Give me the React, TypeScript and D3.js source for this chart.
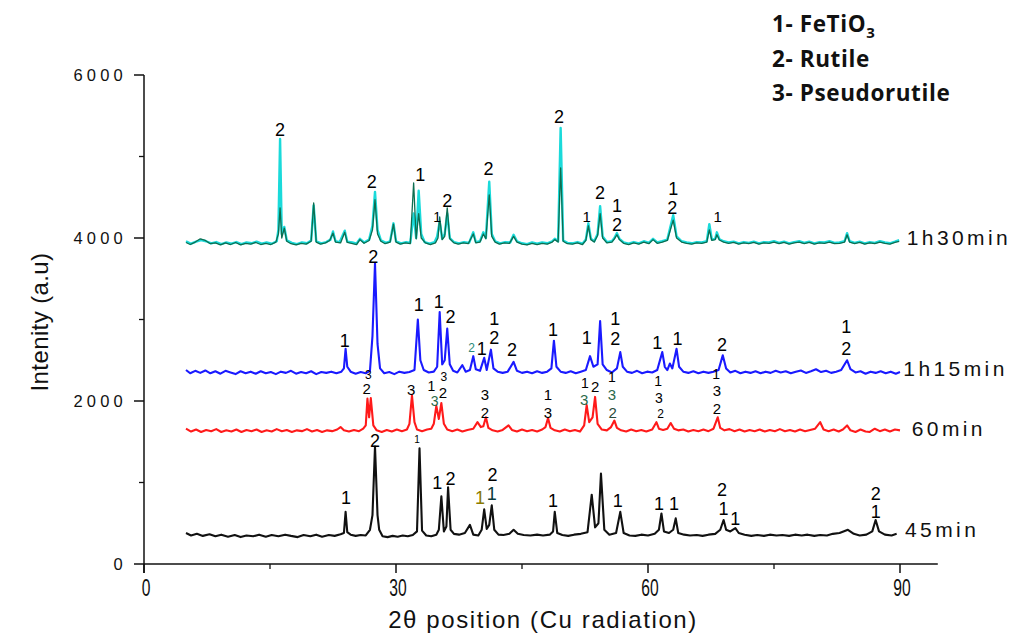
import React from "react";
import * as d3 from "d3";

const xTicksMajor = [0, 30, 60, 90];
const xTicksMinor = [15, 45, 75];
const yTicksMajor = [0, 2000, 4000, 6000];
const yTicksMinor = [1000, 3000, 5000];

const legendItems = ["1- FeTiO", "2- Rutile", "3- Pseudorutile"];

const black45: [number, number][] = [
[5,380],[5.6,350],[6.3,370],[7,345],[7.8,365],[8.5,340],[9.2,360],[10,335],[10.8,355],[11.5,330],[12.2,350],[13,340],[13.7,360],[14.5,335],[15.2,355],[16,340],[16.8,360],[17.5,345],[18.3,330],[19,355],[19.8,340],[20.5,360],[21.2,335],[22,355],[22.7,345],[23.4,365],[23.8,380],[24.0,640],[24.2,390],[24.6,360],[25.2,345],[25.8,355],[26.4,350],[26.9,420],[27.2,600],[27.5,1440],[27.8,600],[28.0,420],[28.4,340],[29,330],[29.6,345],[30.2,335],[30.8,350],[31.4,340],[32,355],[32.5,400],[32.8,1420],[33.1,410],[33.6,350],[34.2,340],[34.8,360],[35.1,420],[35.4,830],[35.7,400],[36.0,460],[36.2,940],[36.5,420],[36.9,370],[37.5,360],[38.2,380],[38.8,480],[39.2,360],[39.8,350],[40.2,420],[40.5,670],[40.8,430],[41.1,480],[41.4,720],[41.7,420],[42.2,360],[42.8,355],[43.5,370],[44,420],[44.5,370],[45.2,355],[46,350],[46.8,360],[47.5,350],[48.3,360],[48.7,400],[48.9,640],[49.2,380],[49.8,355],[50.5,345],[51.2,360],[52,370],[52.8,390],[53.3,850],[53.7,450],[54.1,500],[54.4,1110],[54.8,420],[55.4,360],[56.2,380],[56.7,640],[57.1,380],[57.8,350],[58.5,345],[59.2,360],[60,350],[60.8,370],[61.3,420],[61.6,620],[61.9,400],[62.5,380],[63,420],[63.3,560],[63.6,380],[64.3,360],[65,350],[65.8,355],[66.5,345],[67.2,360],[68,370],[68.6,420],[69.0,540],[69.3,420],[69.8,400],[70.4,440],[70.8,380],[71.5,360],[72.3,345],[73,355],[73.8,345],[74.5,360],[75.3,350],[76,355],[76.8,345],[77.5,360],[78.3,350],[79,360],[79.8,345],[80.5,355],[81.3,350],[82,370],[82.8,380],[83.8,420],[84.5,370],[85.2,350],[86,360],[86.7,400],[87.1,540],[87.5,400],[88.2,360],[89,350],[89.6,370]
];

const red60: [number, number][] = [
[5,1660],[5.6,1625],[6.2,1650],[6.8,1620],[7.4,1645],[8,1630],[8.6,1655],[9.2,1620],[9.8,1640],[10.4,1625],[11,1650],[11.6,1620],[12.2,1645],[12.8,1630],[13.4,1650],[14,1620],[14.6,1640],[15.2,1625],[15.8,1655],[16.4,1630],[17,1645],[17.6,1620],[18.2,1640],[18.8,1630],[19.4,1655],[20,1625],[20.6,1645],[21.2,1620],[21.8,1640],[22.4,1630],[23,1650],[23.4,1680],[23.8,1640],[24.4,1625],[25,1645],[25.6,1630],[26.1,1660],[26.4,1700],[26.6,2030],[26.8,1800],[27.0,2035],[27.3,1700],[27.7,1640],[28.3,1620],[28.9,1645],[29.5,1625],[30.1,1650],[30.7,1630],[31.3,1650],[31.6,1720],[31.9,2070],[32.2,1740],[32.5,1650],[33.1,1630],[33.7,1650],[34.2,1660],[34.5,1720],[34.8,1940],[35.1,1780],[35.4,1975],[35.7,1720],[36.1,1650],[36.7,1630],[37.3,1650],[37.9,1625],[38.5,1645],[39.2,1660],[39.7,1740],[40.1,1680],[40.4,1690],[40.7,1800],[41.0,1670],[41.5,1640],[42.1,1625],[42.7,1645],[43.4,1700],[43.8,1645],[44.4,1625],[45,1650],[45.6,1630],[46.2,1645],[46.8,1625],[47.4,1650],[47.8,1680],[48.1,1790],[48.4,1670],[48.9,1640],[49.5,1625],[50.1,1650],[50.7,1630],[51.3,1645],[51.9,1625],[52.4,1700],[52.7,1950],[53.0,1740],[53.4,1800],[53.7,2050],[54.0,1720],[54.5,1650],[55.1,1640],[55.6,1680],[56.0,1760],[56.3,1670],[56.8,1640],[57.4,1625],[58,1650],[58.6,1630],[59.2,1645],[59.8,1625],[60.5,1650],[61.0,1740],[61.3,1660],[61.8,1645],[62.3,1660],[62.7,1730],[63.1,1660],[63.6,1640],[64.2,1650],[64.8,1625],[65.4,1645],[66,1630],[66.6,1650],[67.2,1630],[67.8,1660],[68.3,1800],[68.6,1670],[69.1,1640],[69.7,1655],[70.3,1630],[70.9,1650],[71.5,1625],[72.1,1645],[72.7,1630],[73.3,1650],[73.9,1625],[74.5,1645],[75.1,1630],[75.7,1655],[76.3,1630],[76.9,1645],[77.5,1625],[78.1,1650],[78.7,1630],[79.3,1645],[79.9,1660],[80.5,1740],[80.9,1650],[81.5,1630],[82.1,1650],[82.7,1625],[83.2,1650],[83.7,1700],[84.1,1640],[84.7,1620],[85.3,1650],[85.9,1625],[86.4,1620],[87,1660],[87.6,1630],[88.2,1650],[88.8,1625],[89.4,1650],[90,1640]
];

const blue75: [number, number][] = [
[5,2380],[5.5,2340],[6.1,2370],[6.7,2345],[7.3,2375],[7.9,2340],[8.5,2365],[9.1,2335],[9.7,2370],[10.3,2350],[10.9,2330],[11.5,2365],[12.1,2340],[12.7,2360],[13.3,2335],[13.9,2365],[14.5,2340],[15.1,2355],[15.7,2330],[16.3,2360],[16.9,2345],[17.5,2370],[18.1,2335],[18.7,2355],[19.3,2340],[19.9,2365],[20.5,2330],[21.1,2355],[21.7,2345],[22.3,2360],[22.9,2340],[23.5,2360],[23.8,2400],[24.0,2640],[24.2,2420],[24.6,2360],[25.2,2335],[25.8,2355],[26.4,2340],[26.9,2370],[27.2,2800],[27.5,3690],[27.8,2700],[28.1,2400],[28.6,2340],[29.2,2355],[29.8,2330],[30.4,2360],[31,2345],[31.6,2355],[32.2,2380],[32.6,3000],[32.9,2500],[33.3,2380],[33.9,2350],[34.5,2360],[34.9,2420],[35.2,3090],[35.5,2450],[35.8,2500],[36.1,2890],[36.4,2450],[36.8,2370],[37.3,2350],[37.9,2440],[38.3,2360],[38.8,2380],[39.2,2550],[39.5,2390],[40.0,2370],[40.5,2530],[40.8,2380],[41.3,2630],[41.6,2400],[42.1,2360],[42.7,2345],[43.3,2360],[44.0,2480],[44.4,2370],[45,2345],[45.6,2360],[46.2,2340],[46.8,2365],[47.4,2345],[48.0,2360],[48.5,2400],[48.8,2740],[49.1,2420],[49.6,2360],[50.2,2345],[50.8,2365],[51.4,2340],[52,2360],[52.6,2380],[53.1,2550],[53.5,2420],[54.0,2450],[54.3,2980],[54.6,2450],[55.1,2380],[55.7,2350],[56.3,2400],[56.7,2600],[57.0,2420],[57.5,2360],[58.1,2345],[58.7,2370],[59.3,2340],[59.9,2360],[60.5,2350],[61.1,2380],[61.7,2600],[62.0,2420],[62.3,2380],[62.6,2460],[62.9,2400],[63.4,2640],[63.7,2420],[64.2,2360],[64.8,2345],[65.4,2365],[66,2340],[66.6,2360],[67.2,2345],[67.8,2360],[68.4,2380],[68.9,2560],[69.3,2400],[69.8,2350],[70.4,2370],[71,2340],[71.6,2360],[72.2,2345],[72.8,2365],[73.4,2340],[74,2360],[74.6,2345],[75.2,2370],[75.8,2350],[76.4,2365],[77,2340],[77.6,2360],[78.2,2375],[78.8,2345],[79.4,2365],[80,2390],[80.6,2355],[81.2,2370],[81.8,2345],[82.4,2360],[83,2380],[83.7,2500],[84.1,2390],[84.7,2350],[85.3,2365],[85.9,2335],[86.5,2360],[87.1,2345],[87.7,2365],[88.3,2340],[88.9,2360],[89.5,2335],[90,2355]
];

const cyan90: [number, number][] = [
[5,3960],[5.6,3930],[6.2,3955],[6.8,3975],[7.4,3960],[8,3935],[8.6,3950],[9.2,3925],[9.8,3945],[10.4,3930],[11,3950],[11.6,3925],[12.2,3945],[12.8,3935],[13.4,3955],[14,3930],[14.6,3945],[15.2,3930],[15.8,3960],[16.0,4100],[16.2,5215],[16.4,4050],[16.7,4135],[17.0,3970],[17.6,3940],[18.2,3925],[18.8,3945],[19.4,3935],[19.9,3970],[20.2,4400],[20.5,3960],[21.1,3935],[21.7,3950],[22.2,3980],[22.5,4080],[22.8,3960],[23.3,3950],[23.9,4090],[24.2,3955],[24.8,3945],[25.3,3930],[25.7,3990],[26.2,3945],[26.8,3980],[27.2,4150],[27.5,4565],[27.8,4100],[28.2,3970],[28.8,3940],[29.3,3960],[29.7,4180],[30.0,3960],[30.6,3935],[31.2,3950],[31.7,3940],[32.1,4300],[32.4,4000],[32.7,4580],[33.0,4050],[33.4,3950],[34,3930],[34.6,3950],[34.9,4020],[35.2,4200],[35.5,3990],[35.8,4050],[36.1,4300],[36.4,4000],[36.9,3950],[37.5,3935],[38.1,3950],[38.7,3940],[39.2,4070],[39.5,3950],[40.0,3960],[40.4,4070],[40.7,4000],[41.1,4690],[41.4,4050],[41.8,3960],[42.4,3935],[43,3950],[43.6,3945],[44.0,4040],[44.4,3960],[45,3935],[45.6,3925],[46.2,3945],[46.8,3930],[47.4,3945],[48,3935],[48.6,3960],[48.9,3990],[49.3,3960],[49.6,5350],[49.9,3970],[50.4,3940],[51,3935],[51.6,3950],[52.2,3930],[52.6,3980],[52.9,4180],[53.2,3990],[53.6,3960],[54.0,4050],[54.3,4390],[54.6,4020],[55.1,3950],[55.7,3960],[56.0,4000],[56.3,4060],[56.6,3990],[57.1,3945],[57.7,3930],[58.3,3950],[58.9,3935],[59.5,3960],[60.1,3940],[60.6,3990],[61.1,3945],[61.7,3960],[62.3,3980],[63.0,4280],[63.4,4020],[64,3960],[64.6,3945],[65.2,3935],[65.8,3950],[66.4,3945],[67.0,3960],[67.3,4170],[67.6,3980],[68.0,3990],[68.2,4070],[68.5,3985],[69,3960],[69.6,3945],[70.2,3955],[70.8,3935],[71.4,3950],[72,3940],[72.6,3955],[73.2,3935],[73.8,3950],[74.4,3945],[75,3960],[75.6,3940],[76.2,3955],[76.8,3935],[77.4,3950],[78,3960],[78.6,3940],[79.2,3955],[79.8,3935],[80.4,3950],[81,3945],[81.6,3960],[82.2,3940],[82.8,3945],[83.4,3960],[83.7,4060],[84,3960],[84.6,3940],[85.2,3955],[85.8,3935],[86.4,3950],[87,3940],[87.6,3960],[88.2,3945],[88.8,3935],[89.4,3955],[89.9,3975]
];

const green90: [number, number][] = [
[5,3945],[5.5,3920],[6.1,3950],[6.7,3990],[7.3,3970],[7.9,3930],[8.5,3940],[9.1,3915],[9.7,3940],[10.3,3920],[10.9,3945],[11.5,3915],[12.1,3935],[12.7,3925],[13.3,3945],[13.9,3920],[14.5,3935],[15.1,3920],[15.7,3950],[16.0,4050],[16.2,4370],[16.4,4000],[16.7,4120],[17.0,3960],[17.5,3930],[18.1,3915],[18.7,3935],[19.3,3925],[19.9,3960],[20.2,4430],[20.5,3950],[21,3925],[21.6,3940],[22.1,3970],[22.5,4060],[22.8,3950],[23.4,3940],[23.9,4070],[24.2,3945],[24.7,3935],[25.3,3920],[25.7,3980],[26.2,3935],[26.8,3970],[27.2,4100],[27.5,4470],[27.8,4050],[28.2,3960],[28.7,3930],[29.3,3950],[29.7,4170],[30.0,3950],[30.5,3925],[31.1,3940],[31.7,3930],[32.1,4675],[32.4,3990],[32.7,4300],[33.0,4000],[33.5,3940],[34.1,3920],[34.7,3940],[35.0,4000],[35.2,4260],[35.5,3980],[35.8,4020],[36.1,4370],[36.4,3990],[36.9,3940],[37.4,3925],[38,3940],[38.6,3930],[39.2,4050],[39.5,3940],[40.0,3950],[40.4,4050],[40.7,3990],[41.1,4530],[41.4,4020],[41.8,3950],[42.3,3925],[42.9,3940],[43.5,3935],[44.0,4020],[44.4,3950],[45,3925],[45.6,3915],[46.2,3935],[46.8,3920],[47.4,3935],[48,3925],[48.6,3950],[48.9,3980],[49.3,3950],[49.6,4860],[49.9,3960],[50.4,3930],[51,3925],[51.6,3940],[52.2,3920],[52.6,3970],[52.9,4150],[53.2,3980],[53.6,3950],[54.0,4030],[54.3,4300],[54.6,4000],[55.1,3940],[55.7,3950],[56.0,3990],[56.3,4040],[56.6,3980],[57.1,3935],[57.7,3920],[58.3,3940],[58.9,3925],[59.5,3950],[60.1,3930],[60.6,3980],[61.1,3935],[61.7,3950],[62.3,3970],[63.0,4220],[63.4,4000],[64,3950],[64.6,3935],[65.2,3925],[65.8,3940],[66.4,3935],[67.0,3950],[67.3,4100],[67.6,3970],[68.0,3980],[68.2,4040],[68.5,3975],[69,3950],[69.6,3935],[70.2,3945],[70.8,3925],[71.4,3940],[72,3930],[72.6,3945],[73.2,3925],[73.8,3940],[74.4,3935],[75,3950],[75.6,3930],[76.2,3945],[76.8,3925],[77.4,3940],[78,3950],[78.6,3930],[79.2,3945],[79.8,3925],[80.4,3940],[81,3935],[81.6,3950],[82.2,3930],[82.8,3935],[83.4,3950],[83.7,4040],[84,3950],[84.6,3930],[85.2,3945],[85.8,3925],[86.4,3940],[87,3930],[87.6,3950],[88.2,3935],[88.8,3925],[89.4,3945],[89.9,3960]
];

// peak labels: [2theta, intensity, text, fontSize, color]
type Lab = [number, number, string, number, string];
const labels45: Lab[] = [
[24.05,810,"1",18,"#000"],[27.5,1521,"2",18,"#000"],[32.5,1534,"1",10,"#000"],[34.9,994,"1",18,"#000"],[36.5,1043,"2",18,"#000"],
[40.0,810,"1",18,"#8a7a00"],[41.4,860,"1",18,"#0a3a3a"],[41.5,1095,"2",18,"#000"],[48.7,773,"1",18,"#000"],[56.4,785,"1",18,"#000"],
[61.3,748,"1",18,"#000"],[63.1,748,"1",18,"#000"],[68.8,920,"2",18,"#000"],[69.0,675,"1",18,"#000"],[70.4,560,"1",18,"#000"],
[87.1,860,"2",18,"#000"],[87.1,638,"1",18,"#000"]
];
const labels60: Lab[] = [
[26.7,2320,"3",12,"#000"],[26.5,2150,"2",15,"#000"],[31.8,2135,"3",15,"#000"],[34.2,2190,"1",14,"#000"],[34.6,2000,"3",14,"#2a6a4a"],
[35.6,2098,"2",15,"#000"],[35.7,2300,"3",12,"#000"],[40.6,2080,"3",15,"#000"],[40.6,1860,"2",15,"#000"],[48.1,2080,"1",15,"#000"],
[48.1,1860,"3",15,"#000"],[52.5,2221,"1",14,"#000"],[52.4,2012,"3",15,"#2a6a4a"],[53.7,2172,"2",15,"#000"],[55.7,2290,"1",14,"#000"],
[55.7,2074,"3",15,"#2a6a4a"],[55.8,1860,"2",15,"#2a4a3a"],[61.2,2250,"1",14,"#000"],[61.3,2040,"3",14,"#000"],[61.5,1845,"2",12,"#000"],
[68.1,2330,"1",14,"#000"],[68.2,2130,"3",15,"#000"],[68.2,1910,"2",15,"#000"]
];
const labels75: Lab[] = [
[23.9,2748,"1",18,"#000"],[27.3,3767,"2",18,"#000"],[32.7,3178,"1",18,"#000"],[35.1,3215,"1",18,"#000"],[36.5,3031,"2",18,"#000"],
[39.0,2650,"2",12,"#2a8a7a"],[40.2,2650,"1",18,"#000"],[41.7,3006,"1",18,"#000"],[41.7,2773,"2",18,"#000"],[43.8,2626,"2",18,"#000"],
[48.7,2871,"1",18,"#000"],[52.7,2785,"1",18,"#000"],[56.1,3018,"1",18,"#000"],[56.1,2761,"2",18,"#000"],[61.1,2712,"1",18,"#000"],
[63.5,2761,"1",18,"#000"],[68.8,2687,"2",18,"#000"],[83.6,2908,"1",18,"#000"],[83.6,2650,"2",18,"#000"]
];
const labels90: Lab[] = [
[16.2,5325,"2",18,"#000"],[27.1,4687,"2",18,"#000"],[32.9,4773,"1",18,"#000"],[34.9,4258,"1",14,"#000"],[36.1,4466,"2",18,"#000"],
[41.0,4847,"2",18,"#000"],[49.4,5485,"2",18,"#000"],[52.7,4258,"1",15,"#000"],[54.3,4552,"2",18,"#000"],[56.3,4393,"1",18,"#000"],
[56.3,4160,"2",18,"#000"],[63.0,4613,"1",18,"#000"],[62.9,4368,"2",18,"#000"],[68.3,4258,"1",15,"#000"]
];

const seriesNames = ["45min", "60min", "1h15min", "1h30min"];
const seriesNamePos: [number, number][] = [[90.6, 429], [91.4, 1669], [90.4, 2405], [90.8, 4012]];

const W = 1016, H = 635;
const x = d3.scaleLinear().domain([0, 94.5]).range([144, 937.8]);
const y = d3.scaleLinear().domain([0, 6000]).range([564, 75]);

const line = d3.line<[number, number]>().x(d => x(d[0])).y(d => y(d[1]));

const spectra: { data: [number, number][]; color: string; w: number }[] = [
  { data: black45, color: "#111111", w: 2.1 },
  { data: red60, color: "#ff1a1a", w: 2.1 },
  { data: blue75, color: "#1a1aff", w: 2.1 },
  { data: cyan90, color: "#1adada", w: 2.4 },
  { data: green90, color: "#0d6e50", w: 1.3 },
];

const allLabels = [...labels45, ...labels60, ...labels75, ...labels90];

export default function App() {
  const sans = "'Liberation Sans', Arial, Helvetica, sans-serif";
  return (
    <svg width={W} height={H} style={{ position: "absolute", left: 0, top: 0, background: "#fff" }}>
      <rect width={W} height={H} fill="#fff" />
      {/* axes */}
      <line x1={x(0)} x2={x(94.5)} y1={y(0)} y2={y(0)} stroke="#111" strokeWidth={1.5} />
      <line x1={x(0)} x2={x(0)} y1={y(0) + 9} y2={y(6000)} stroke="#111" strokeWidth={1.5} />
      {xTicksMajor.map(t => (
        <g key={"xm" + t}>
          <line x1={x(t)} x2={x(t)} y1={y(0)} y2={y(0) + 9} stroke="#111" strokeWidth={1.5} />
          <text x={x(t) + 2} y={596} fontFamily={sans} fontSize={23} textAnchor="middle" fill="#111"
            transform={`translate(${x(t) + 2},0) scale(0.68,1) translate(${-(x(t) + 2)},0)`}>{t}</text>
        </g>
      ))}
      {xTicksMinor.map(t => (
        <line key={"xn" + t} x1={x(t)} x2={x(t)} y1={y(0)} y2={y(0) + 5} stroke="#111" strokeWidth={1.3} />
      ))}
      {yTicksMajor.map(t => (
        <g key={"ym" + t}>
          <line x1={x(0) - 10} x2={x(0)} y1={y(t)} y2={y(t)} stroke="#111" strokeWidth={1.5} />
          <text x={127} y={y(t) + 6} fontFamily={sans} fontSize={16.5} letterSpacing={4.2} textAnchor="end" fill="#111">{t}</text>
        </g>
      ))}
      {yTicksMinor.map(t => (
        <line key={"yn" + t} x1={x(0) - 5} x2={x(0)} y1={y(t)} y2={y(t)} stroke="#111" strokeWidth={1.3} />
      ))}
      <text x={543} y={628} fontFamily={sans} fontSize={24} letterSpacing={1.6} textAnchor="middle" fill="#111">2θ position (Cu radiation)</text>
      <text transform="translate(48,322) rotate(-90)" fontFamily={sans} fontSize={24} letterSpacing={0.4} textAnchor="middle" fill="#111">Intenity (a.u)</text>

      {/* spectra */}
      {spectra.map((s, i) => (
        <path key={"s" + i} d={line(s.data) || ""} fill="none" stroke={s.color} strokeWidth={s.w} strokeLinejoin="round" />
      ))}

      {/* peak labels */}
      {allLabels.map((l, i) => (
        <text key={"l" + i} x={x(l[0])} y={y(l[1])} dy="0.36em" fontFamily={sans} fontSize={l[3]} textAnchor="middle" fill={l[4]}>{l[2]}</text>
      ))}

      {/* series names */}
      {seriesNames.map((n, i) => (
        <text key={"n" + i} x={x(seriesNamePos[i][0])} y={y(seriesNamePos[i][1])} dy="0.36em" fontFamily={sans} fontSize={21} letterSpacing={3.4} fill="#111">{n}</text>
      ))}

      {/* legend */}
      <g fontFamily="'Open Sans', Lato, sans-serif" fontWeight={700} fontSize={22.5} letterSpacing={0.6} fill="#111">
        <text x={772} y={32}>{legendItems[0]}<tspan dy={6} fontSize={15}>3</tspan></text>
        <text x={772} y={67}>{legendItems[1]}</text>
        <text x={772} y={101}>{legendItems[2]}</text>
      </g>
    </svg>
  );
}
